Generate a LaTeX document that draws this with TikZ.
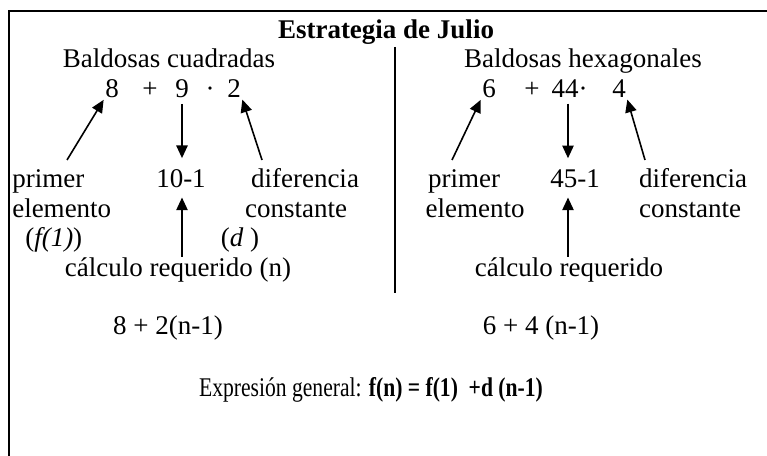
\documentclass[tikz,border=0pt]{standalone}
\usepackage{fontspec}
\setmainfont{Liberation Serif}
\newfontfamily\narrowserif{Liberation Serif}[FakeStretch=0.8]
\usetikzlibrary{arrows.meta}

\begin{document}
\begin{tikzpicture}[x=0.75pt,y=-0.75pt,
    font=\fontsize{20.25pt}{24pt}\selectfont,
    lbl/.style={inner sep=0pt,anchor=base},
    num/.style={inner sep=1pt,anchor=base},
    arr/.style={line width=1.2pt,-{Triangle[length=9.5pt,width=8.5pt]}}]
    \useasboundingbox (0,0) rectangle (767,456);

    % frame and divider
    \draw[line width=1.6pt] (767,11) -- (9,11) -- (9,456);
    \coordinate (dtop) at (395,47);
    \coordinate (dbot) at (395,293);
    \draw[line width=1.4pt] (dtop) -- (dbot);

    \node[lbl] (title) at (386,39) {\bfseries Estrategia de Julio};

    % left half
    \node[lbl] (bc) at (169,68) {Baldosas cuadradas};
    \node[num] (n8) at (112,98) {8};
    \node[num] (pl1) at (150,98) {+};
    \node[num] (n9) at (182,98) {9};
    \node[num] (dt1) at (210,98) {·};
    \node[num] (n2) at (234,98) {2};

    \node[lbl,anchor=base west] (pr1) at (12,187) {primer};
    \node[lbl,anchor=base west] (el1) at (12,217) {elemento};
    \node[lbl] (r1) at (181,187) {10-1};
    \node[lbl] (di1) at (305,187) {diferencia};
    \node[lbl] (co1) at (296,217) {constante};
    \node[lbl,anchor=base west] (f1) at (25,246) {(\textit{f(1)})};
    \node[lbl] (d1) at (240,246) {(\textit{d} )};
    \node[lbl] (cr1) at (178,276) {cálculo requerido (n)};

    % right half
    \node[lbl] (bh) at (583,68) {Baldosas hexagonales};
    \node[num] (n6) at (489,98) {6};
    \node[num] (pl2) at (532,98) {+};
    \node[num] (n44) at (565,98) {44};
    \node[num] (dt2) at (583,98) {·};
    \node[num] (n4) at (619,98) {4};

    \node[lbl] (pr2) at (464,187) {primer};
    \node[lbl] (el2) at (475,217) {elemento};
    \node[lbl] (r2) at (575,187) {45-1};
    \node[lbl] (di2) at (693,187) {diferencia};
    \node[lbl] (co2) at (690,217) {constante};
    \node[lbl] (cr2) at (569,276) {cálculo requerido};

    % arrows (tails)
    \coordinate (t8) at (67,160);
    \coordinate (t2) at (262,160);
    \coordinate (t6) at (452,160);
    \coordinate (t4) at (645,160);
    \coordinate (v2) at (568,98);

    \draw[arr] (t8) -- (n8.south west);
    \draw[arr] (t2) -- (n2.south east);
    \draw[arr,shorten <=3pt,shorten >=8pt] (n9.south) -- (n9 |- r1.north);
    \draw[arr,shorten >=7.5pt] (cr1.north -| n9) -- (n9 |- r1.south);

    \draw[arr] (t6) -- (n6.south west);
    \draw[arr] (t4) -- (n4.south east);
    \draw[arr,shorten <=3pt,shorten >=8pt] (v2 |- n44.south) -- (v2 |- r2.north);
    \draw[arr,shorten >=7.5pt] (cr2.north -| v2) -- (v2 |- r2.south);

    % results
    \node[lbl] (e1) at (168,334) {8 + 2(n-1)};
    \node[lbl] (e2) at (541,334) {6 + 4 (n-1)};
    \node[lbl] (gen) at (371,396) {\narrowserif Expresión general: \textbf{f(n) = f(1)~~+d (n-1)}};
\end{tikzpicture}
\end{document}
